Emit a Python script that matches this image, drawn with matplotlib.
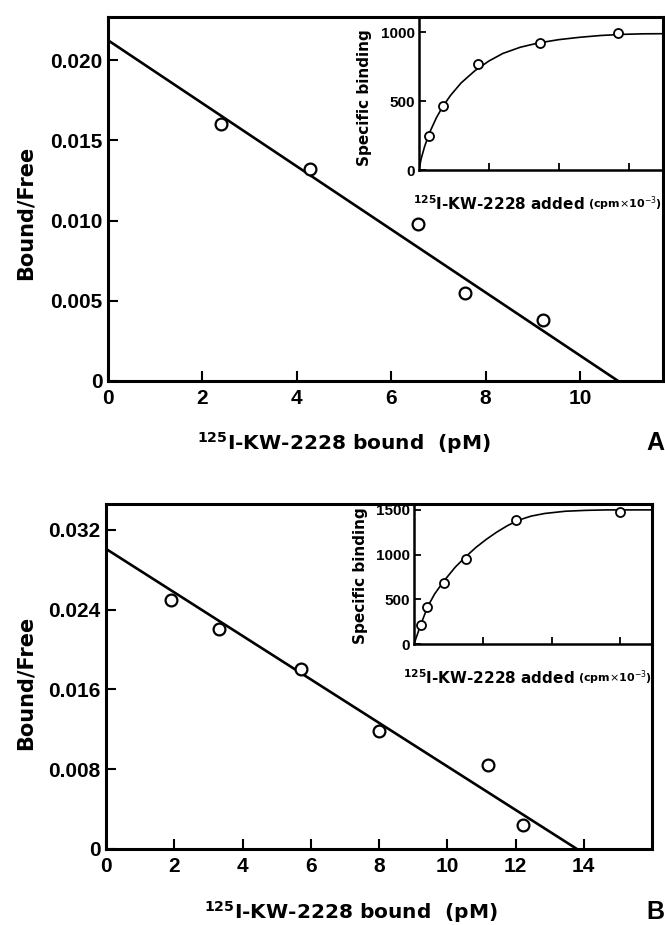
import matplotlib
matplotlib.use("Agg")
import matplotlib.pyplot as plt

W, H = 665, 925

# ---- panel A : Scatchard plot ----
a_bound = [2.39, 4.29, 6.57, 7.56, 9.22]
a_ratio = [0.0160, 0.0132, 0.0098, 0.0055, 0.0038]
a_fit_x = [0, 10.81]
a_fit_y = [0.02125, 0]
a_xticks = [0, 2, 4, 6, 8, 10]
a_yticks = [0, 0.005, 0.010, 0.015, 0.020]
a_ylabels = ["0", "0.005", "0.010", "0.015", "0.020"]

# panel A inset : saturation
a_added = [0.15, 0.34, 0.85, 1.73, 2.84]
a_spec = [245, 464, 771, 921, 993]
a_curve_x = [0, 0.03, 0.08, 0.15, 0.25, 0.34, 0.45, 0.6, 0.8, 1.0, 1.2, 1.45,
             1.7, 2.0, 2.3, 2.6, 2.9, 3.2, 3.49]
a_curve_y = [0, 80, 170, 270, 380, 460, 540, 630, 720, 790, 845, 890,
             920, 945, 962, 975, 983, 987, 988]
a_inset_yticks = [0, 500, 1000]

# ---- panel B : Scatchard plot ----
b_bound = [1.90, 3.32, 5.70, 8.01, 11.2, 12.22]
b_ratio = [0.0250, 0.0221, 0.0181, 0.0118, 0.0084, 0.0024]
b_fit_x = [0, 13.8]
b_fit_y = [0.0301, 0]
b_xticks = [0, 2, 4, 6, 8, 10, 12, 14]
b_yticks = [0, 0.008, 0.016, 0.024, 0.032]
b_ylabels = ["0", "0.008", "0.016", "0.024", "0.032"]

# panel B inset : saturation
b_added = [0.10, 0.19, 0.43, 0.75, 1.48, 2.99]
b_spec = [212, 418, 686, 955, 1388, 1474]
b_curve_x = [0, 0.05, 0.1, 0.2, 0.3, 0.43, 0.6, 0.75, 0.9, 1.05, 1.2, 1.35,
             1.5, 1.7, 1.9, 2.2, 2.5, 2.8, 3.1, 3.46]
b_curve_y = [0, 110, 220, 420, 560, 700, 860, 975, 1080, 1170, 1250, 1320,
             1380, 1430, 1460, 1485, 1495, 1500, 1500, 1500]
b_inset_yticks = [0, 500, 1000, 1500]

num_font = ["Liberation Sans", "DejaVu Sans"]
bold = "DejaVu Sans"


def box(l, r, t, b):
    # pixel box -> figure fraction rect
    return [l / W, 1 - b / H, (r - l) / W, (b - t) / H]


def main_panel(ax, xs, ys, fx, fy, xticks, yticks, ylabels, xmax, ymax):
    ax.plot(fx, fy, color="black", lw=1.9, solid_capstyle="butt")
    ax.plot(xs, ys, "o", ms=8.5, mfc="white", mec="black", mew=1.6)
    ax.set_xlim(0, xmax)
    ax.set_ylim(0, ymax)
    ax.set_xticks(xticks)
    ax.set_xticklabels([str(t) for t in xticks])
    ax.set_yticks(yticks)
    ax.set_yticklabels(ylabels)
    for s in ax.spines.values():
        s.set_linewidth(2.2)
    ax.tick_params(direction="in", length=7, width=1.5, labelsize=15)
    ax.tick_params(axis="x", pad=6)
    ax.tick_params(axis="y", pad=4)
    for lab in ax.get_xticklabels() + ax.get_yticklabels():
        lab.set_family(num_font)
        lab.set_weight("bold")


def inset_panel(ax, xs, ys, cx, cy, yticks, xmax, ymax):
    ax.plot(cx, cy, color="black", lw=1.2)
    ax.plot(xs, ys, "o", ms=6.5, mfc="white", mec="black", mew=1.3, zorder=3)
    ax.set_xlim(0, xmax)
    ax.set_ylim(0, ymax)
    ax.set_xticks([1, 2, 3])
    ax.set_xticklabels([])
    ax.set_yticks(yticks)
    ax.set_yticklabels([str(t) for t in yticks])
    ax.spines["top"].set_visible(False)
    ax.spines["right"].set_visible(False)
    ax.spines["left"].set_linewidth(1.8)
    ax.spines["bottom"].set_linewidth(1.8)
    ax.tick_params(direction="in", length=5, width=1.3, labelsize=11, pad=3)
    for lab in ax.get_yticklabels():
        lab.set_family(num_font)
        lab.set_weight("bold")
    ax.patch.set_alpha(0)


fig = plt.figure(figsize=(W / 100, H / 100), dpi=100)

# panel A
axA = fig.add_axes(box(108, 663, 17, 381))
main_panel(axA, a_bound, a_ratio, a_fit_x, a_fit_y, a_xticks, a_yticks,
           a_ylabels, 11.76, 0.0227)
insA = fig.add_axes(box(419, 663, 17, 170))
inset_panel(insA, a_added, a_spec, a_curve_x, a_curve_y, a_inset_yticks,
            3.49, 1109)

# panel B
axB = fig.add_axes(box(106, 652, 504, 849))
main_panel(axB, b_bound, b_ratio, b_fit_x, b_fit_y, b_xticks, b_yticks,
           b_ylabels, 16, 0.0346)
insB = fig.add_axes(box(414, 652, 504, 644))
inset_panel(insB, b_added, b_spec, b_curve_x, b_curve_y, b_inset_yticks,
            3.46, 1566)


def ftext(px, py, s, **kw):
    fig.text(px / W, 1 - py / H, s, **kw)


xlab = r"$\mathbf{^{125}}$I-KW-2228 bound  (pM)"
inlab = r"$\mathbf{^{125}}$I-KW-2228 added"

for (ylx, yly, xlx, xly, ilx, ily, sx, sy, letter, lx, ly) in [
        (26, 213, 344, 443, 413, 204, 365, 98, "A", 664, 443),
        (26, 683, 351, 912, 403, 678, 361, 576, "B", 664, 912)]:
    ftext(ylx, yly, "Bound/Free", rotation=90, ha="center", va="center",
          fontsize=15, fontweight="bold", family=bold)
    ftext(xlx, xly, xlab, ha="center", va="center", fontsize=14.5,
          fontweight="bold", family=bold)
    ftext(sx, sy, "Specific binding", rotation=90, ha="center", va="center",
          fontsize=11, fontweight="bold", family=bold)
    t = fig.text(ilx / W, 1 - ily / H, inlab, ha="left", va="center",
                 fontsize=11, fontweight="bold", family=bold)
    fig.canvas.draw()
    bb = t.get_window_extent()
    fig.text((bb.x1 + 3) / W, 1 - ily / H, r"(cpm$\times$10$^{-3}$)",
             ha="left", va="center", fontsize=8, fontweight="bold",
             family=bold)
    ftext(lx, ly, letter, ha="right", va="center", fontsize=18,
          fontweight="bold", family=num_font)

fig.savefig("out.png", dpi=100)
